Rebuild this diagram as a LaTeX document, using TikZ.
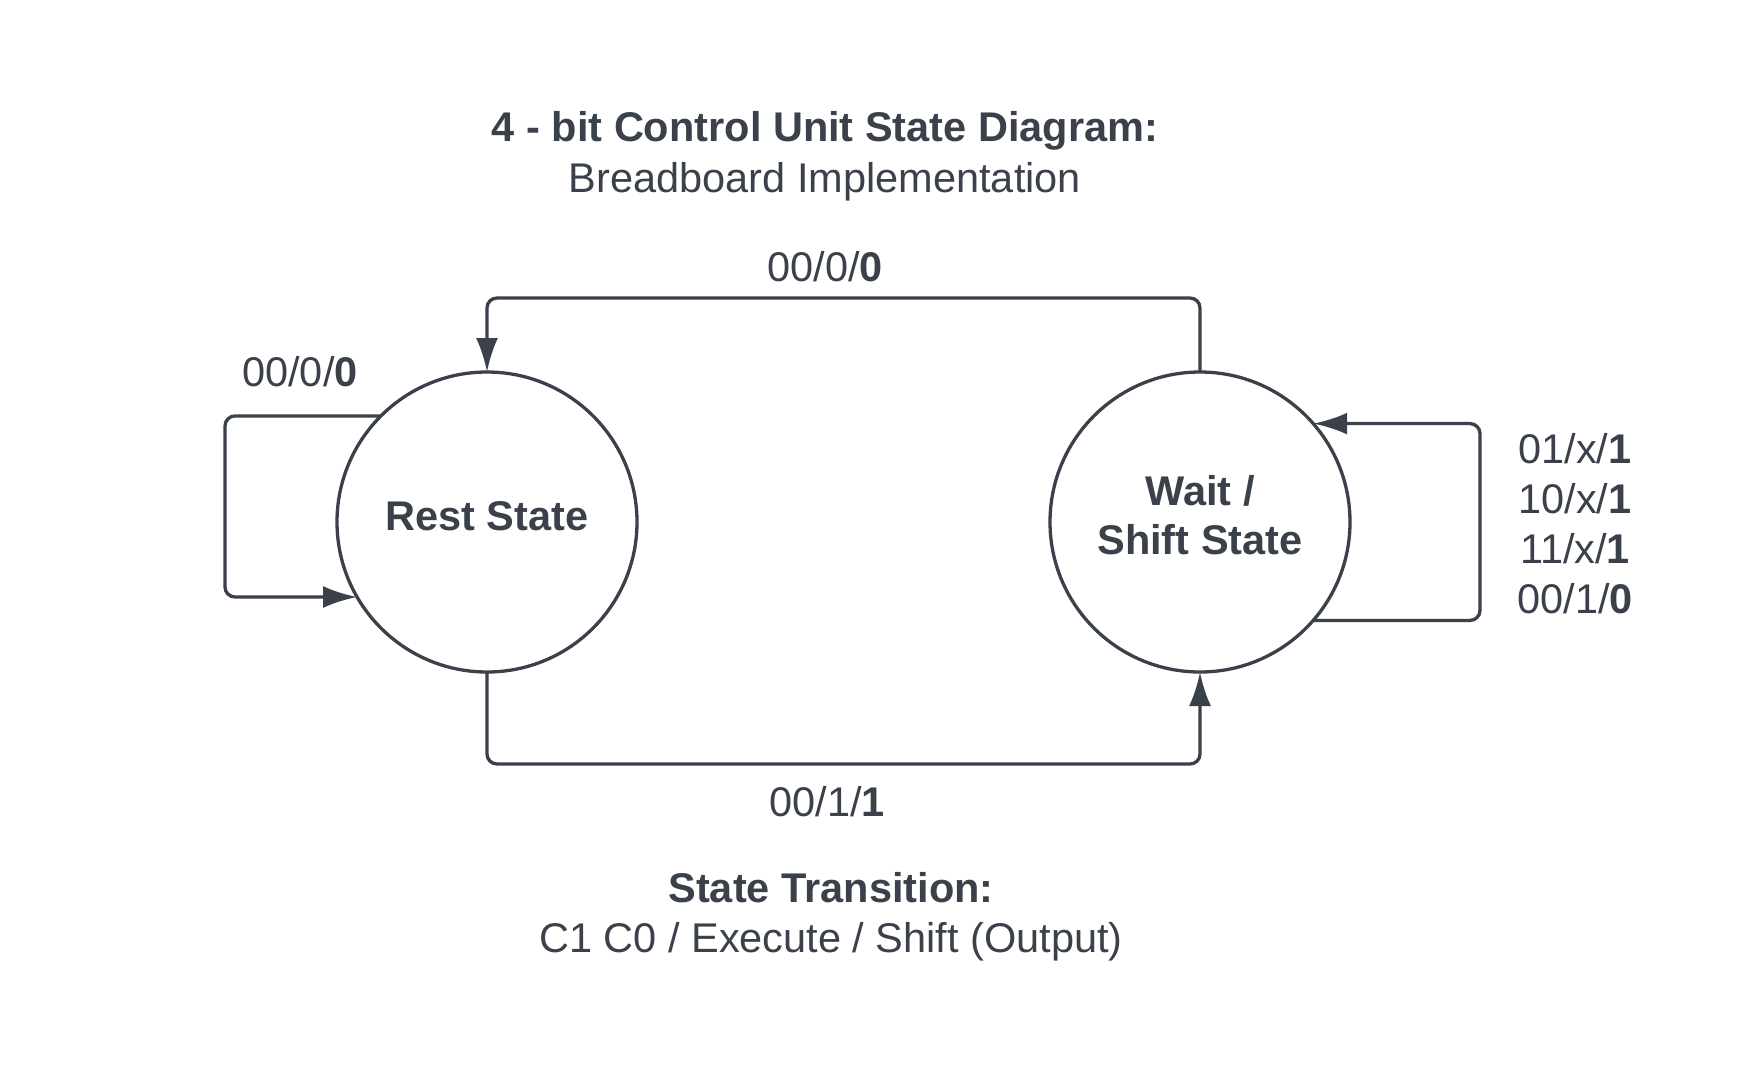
\documentclass[tikz,border=0pt]{standalone}
\usepackage{fontspec}
\setmainfont{Liberation Sans}
\usepackage{tikz}
\usetikzlibrary{arrows.meta,positioning}

\definecolor{ink}{HTML}{3A414A}

\begin{document}
\begin{tikzpicture}[x=1pt, y=-1pt, >={Latex[length=34pt,width=22pt]},
    every node/.style={text=ink, font=\fontsize{41.5}{50}\selectfont},
    state/.style={circle, draw=ink, line width=3.3pt, minimum size=300pt, inner sep=0pt, outer sep=0pt, align=center},
    conn/.style={draw=ink, line width=3.3pt, rounded corners=10pt},
    lbl/.style={anchor=base}]
    \useasboundingbox (0,0) rectangle (1763,1082);

    % states
    \node[state, text depth=12pt] (rest) at (487,522) {\textbf{Rest State}};
    \node[state, text depth=15pt, right=413pt of rest] (wait) {\textbf{Wait /}\\[-1pt]\textbf{Shift State}};

    % helper coordinates for the connector bends
    \coordinate (top) at (0,298);
    \coordinate (bot) at (0,764);
    \coordinate (lx) at (225,0);
    \coordinate (rx) at (1480,0);

    \draw[conn,->] (wait.north) -- (wait.north |- top) -| (rest.north);
    \draw[conn,->] (rest.south) -- (rest.south |- bot) -| (wait.south);
    \draw[conn,->] (rest.135.5) -- (rest.135.5 -| lx) |- (rest.210.5);
    \draw[conn,->] (wait.-41.8) -- (wait.-41.8 -| rx) |- (wait.41.2);

    % labels
    \node[lbl] (title) at (825,141) {\textbf{4 - bit Control Unit State Diagram:}};
    \node[lbl] (subtitle) at (825,192) {Breadboard Implementation};
    \node[lbl] (ltop) at (825,281) {00/0/\textbf{0}};
    \node[lbl] (lleft) at (300,386) {00/0/\textbf{0}};
    \node[lbl] (lbot) at (827,816) {00/1/\textbf{1}};
    \foreach \txt [count=\i] in {01/x/\textbf{1}, 10/x/\textbf{1}, 11/x/\textbf{1}, 00/1/\textbf{0}}
        \node[lbl] (lright\i) at (1575,413+50*\i) {\txt};
    \node[lbl] (key) at (831,902) {\textbf{State Transition:}};
    \node[lbl] (keytext) at (831,952) {C1 C0 / Execute / Shift (Output)};
\end{tikzpicture}
\end{document}
